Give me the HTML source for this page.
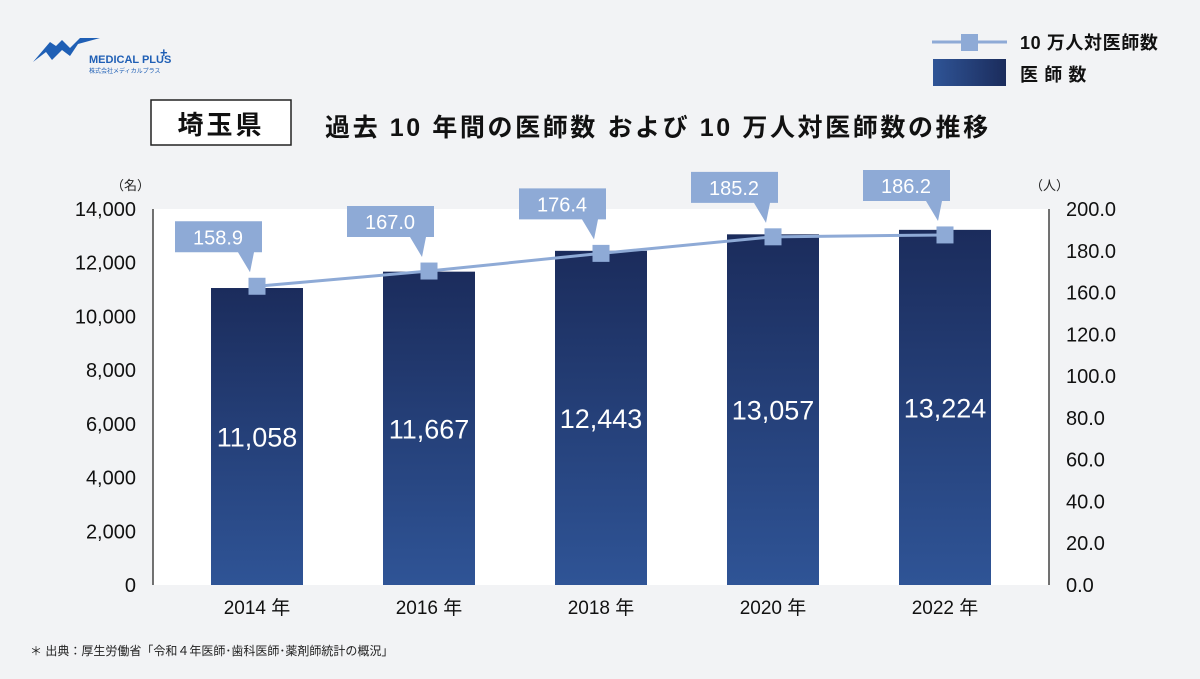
<!DOCTYPE html>
<html><head><meta charset="utf-8">
<style>
body{margin:0;width:1200px;height:674px;overflow:hidden;background:#f2f3f5;font-family:"Liberation Sans","Noto Sans CJK JP",sans-serif;}
</style></head>
<body>
<svg id="chart" width="1200" height="674" viewBox="0 0 1200 674" xmlns="http://www.w3.org/2000/svg" style="font-family:'Liberation Sans','Noto Sans CJK JP',sans-serif">
<defs>
<linearGradient id="barg" x1="0" y1="0" x2="0" y2="1"><stop offset="0" stop-color="#1b2c5c"/><stop offset="1" stop-color="#2f5496"/></linearGradient>
<linearGradient id="legg" x1="0" y1="0" x2="1" y2="0"><stop offset="0" stop-color="#2f5496"/><stop offset="1" stop-color="#1b2c5c"/></linearGradient>
</defs>
<rect width="1200" height="674" fill="#f2f3f5"/>
<g>
<path d="M33 62 L50 42 L56 46 L62 40 L70 48 L80 38 L100 38 L78 44 L70 56 L62 50 L52 60 L46 52 Z" fill="#1f5fb5"/>
<text x="89" y="63" font-size="11" font-weight="bold" fill="#1f5fb5">MEDICAL PLUS</text>
<text x="160" y="57" font-size="13" font-weight="bold" fill="#1f5fb5">+</text>
<text x="89" y="73" font-size="6" fill="#1f5fb5">株式会社メディカルプラス</text>
</g>
<g>
<line x1="932" y1="42" x2="1007" y2="42" stroke="#8eaad6" stroke-width="3"/>
<rect x="961" y="34" width="17" height="17" fill="#8eaad6"/>
<text x="1020" y="49" font-size="18" font-weight="bold" fill="#111" letter-spacing="0.6">10 万人対医師数</text>
<rect x="933" y="59" width="73" height="27" fill="url(#legg)"/>
<text x="1020" y="81" font-size="18" font-weight="bold" fill="#111" letter-spacing="0.6">医 師 数</text>
</g>
<rect x="151" y="100" width="140" height="45" fill="#fff" stroke="#222" stroke-width="1.5"/>
<text x="221" y="134" text-anchor="middle" font-size="26" font-weight="bold" fill="#111" letter-spacing="3">埼玉県</text>
<text x="325" y="136" font-size="25" font-weight="bold" fill="#111" letter-spacing="2.6">過去 10 年間の医師数 および 10 万人対医師数の推移</text>
<rect x="153" y="209" width="896" height="376" fill="#fff"/>
<line x1="153" y1="209" x2="153" y2="585" stroke="#444" stroke-width="1.5"/>
<line x1="1049" y1="209" x2="1049" y2="585" stroke="#444" stroke-width="1.5"/>
<text x="150" y="190" font-size="13" fill="#222" text-anchor="end">（名）</text>
<text x="1030" y="190" font-size="13" fill="#222">（人）</text>
<g id="axes"></g><g id="bars"></g><g id="line"></g>
<text x="30" y="655" font-size="12" fill="#222">＊ 出典：厚生労働省「令和４年医師･歯科医師･薬剤師統計の概況」</text>
</svg>
<script>
const categories=["2014","2016","2018","2020","2022"];
const doctors=[11058,11667,12443,13057,13224];
const per100k=[158.9,167.0,176.4,185.2,186.2];
const leftTicks=[0,2000,4000,6000,8000,10000,12000,14000];
const rightTicks=[0,20,40,60,80,100,120,160,180,200];
const NS="http://www.w3.org/2000/svg";
const y0=585,y1=209;
const yL=v=>y0-(v/14000)*(y0-y1);
const yR=v=>y0-(v/200)*(y0-y1);
const yIdx=i=>y0-i*(y0-y1)/(rightTicks.length-1);
const xC=i=>257+i*172;
function mk(t,a,p){const e=document.createElementNS(NS,t);for(const k in a)e.setAttribute(k,a[k]);p.appendChild(e);return e;}
const ax=document.getElementById('axes'),bg=document.getElementById('bars'),lg=document.getElementById('line');
leftTicks.forEach(v=>{const t=mk('text',{x:136,y:yL(v)+7,'text-anchor':'end','font-size':20,fill:'#111'},ax);t.textContent=v.toLocaleString('en-US');

});
rightTicks.forEach((v,i)=>{const t=mk('text',{x:1066,y:yIdx(i)+7,'font-size':20,fill:'#111'},ax);t.textContent=v.toFixed(1);

});
categories.forEach((c,i)=>{const t=mk('text',{x:xC(i),y:614,'text-anchor':'middle','font-size':19,fill:'#111'},ax);t.textContent=c+' 年';

});
doctors.forEach((v,i)=>{const r=mk('rect',{x:xC(i)-46,y:yL(v),width:92,height:y0-yL(v),fill:'url(#barg)'},bg);


const t=mk('text',{x:xC(i),y:(yL(v)+y0)/2+10,'text-anchor':'middle','font-size':27,fill:'#fff'},bg);t.textContent=v.toLocaleString('en-US');

});
const pts=per100k.map((v,i)=>xC(i)+','+yR(v)).join(' ');
const pl=mk('polyline',{points:pts,fill:'none',stroke:'#8eaad6','stroke-width':3},lg);


per100k.forEach((v,i)=>{const x=xC(i),y=yR(v);
const m=mk('rect',{x:x-8.5,y:y-8.5,width:17,height:17,fill:'#8eaad6'},lg);


const bx=x-82,by=y-65;
const cb=mk('path',{d:`M${bx} ${by}h87v31h-8l-4 20l-12 -20h-63z`,fill:'#8eaad6'},lg);


const t=mk('text',{x:bx+43,y:by+23,'text-anchor':'middle','font-size':20,fill:'#fff'},lg);t.textContent=v.toFixed(1);

});
</script>
</body></html>
